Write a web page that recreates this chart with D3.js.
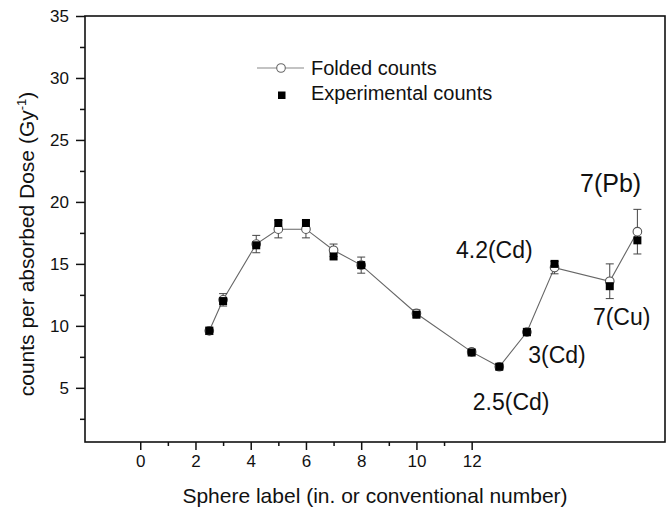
<!DOCTYPE html>
<html>
<head>
<meta charset="utf-8">
<script src="https://cdn.jsdelivr.net/npm/d3@7"></script>
<style>
  body { margin: 0; background: #fff; }
  text { font-family: "Liberation Sans", Arial, sans-serif; fill: #111; }
</style>
</head>
<body>
<div id="chart"></div>
<script>
// Set dimensions and margins for plot
const width = 669;
const height = 510;
const margin = {left: 85, right: 4, bottom: 68, top: 16};

// Data
const sphereX      = [2.5, 3, 4.2, 5, 6, 7, 8, 10, 12, 13, 14, 15, 17, 18];
const foldedCounts = [9.6, 12.1, 16.6, 17.8, 17.8, 16.1, 14.9, 11.0, 7.9, 6.7, 9.5, 14.7, 13.6, 17.6];
const foldedError  = [0.3, 0.5, 0.7, 0.7, 0.7, 0.5, 0.65, 0.3, 0.2, 0.2, 0.3, 0.5, 1.4, 1.8];
const expCounts    = [9.6, 12.0, 16.5, 18.3, 18.3, 15.6, 14.9, 10.9, 7.85, 6.7, 9.5, 15.0, 13.2, 16.9];

const xMajorTicks = [0, 2, 4, 6, 8, 10, 12];
const xMinorTicks = [1, 3, 5, 7, 9, 11];
const yMajorTicks = [5, 10, 15, 20, 25, 30, 35];
const yMinorTicks = [2.5, 7.5, 12.5, 17.5, 22.5, 27.5, 32.5];

const annoText = ["2.5(Cd)", "3(Cd)", "4.2(Cd)", "7(Cu)", "7(Pb)"];
const annoX    = [13.43, 15.09, 12.82, 17.43, 17.03];
const annoY    = [3.2, 7.0, 15.5, 10.1, 20.8];

const svg = d3.select("#chart")
  .append("svg")
  .attr("width", width)
  .attr("height", height);

// Scales
const xScale = d3.scaleLinear()
  .domain([-2, 19])
  .range([margin.left, width - margin.right]);

const yScale = d3.scaleLinear()
  .domain([0.63, 35])
  .range([height - margin.bottom, margin.top]);

const x0 = margin.left, x1 = width - margin.right;
const y0 = height - margin.bottom, y1 = margin.top;

// Axes (major + minor ticks, outward)
svg.append("g")
  .attr("transform", `translate(0,${y0})`)
  .call(d3.axisBottom(xScale).tickValues(xMajorTicks).tickSize(8).tickPadding(5).tickFormat(d3.format("d")))
  .call(g => g.select(".domain").remove())
  .attr("font-size", "17px");

svg.append("g")
  .attr("transform", `translate(0,${y0})`)
  .call(d3.axisBottom(xScale).tickValues(xMinorTicks).tickSize(4).tickFormat(""))
  .call(g => g.select(".domain").remove());

svg.append("g")
  .attr("transform", `translate(${x0},0)`)
  .call(d3.axisLeft(yScale).tickValues(yMajorTicks).tickSize(9).tickPadding(7))
  .call(g => g.select(".domain").remove())
  .attr("font-size", "17px");

svg.append("g")
  .attr("transform", `translate(${x0},0)`)
  .call(d3.axisLeft(yScale).tickValues(yMinorTicks).tickSize(5).tickFormat(""))
  .call(g => g.select(".domain").remove());

svg.selectAll(".tick line").attr("stroke", "#111").attr("stroke-width", 1.5);
svg.selectAll(".tick text").style("font-family", "'Liberation Sans', Arial, sans-serif").attr("fill", "#111");

// Frame
svg.append("rect")
  .attr("x", x0).attr("y", y1)
  .attr("width", x1 - x0).attr("height", y0 - y1)
  .attr("fill", "none")
  .attr("stroke", "#111")
  .attr("stroke-width", 1.6);

// Axis titles
svg.append("text")
  .attr("x", (x0 + x1) / 2)
  .attr("y", 503)
  .style("text-anchor", "middle")
  .style("font-size", "21px")
  .text("Sphere label (in. or conventional number)");

const yTitle = svg.append("text")
  .attr("transform", "translate(34,244) rotate(-90)")
  .style("text-anchor", "middle")
  .style("font-size", "21px");
yTitle.append("tspan").text("counts per absorbed Dose (Gy");
yTitle.append("tspan").attr("dy", "-8").style("font-size", "13px").text("-1");
yTitle.append("tspan").attr("dy", "8").text(")");

const pts = sphereX.map((x, i) => ({x: x, f: foldedCounts[i], e: foldedError[i], m: expCounts[i]}));

// Folded counts line
svg.append("path")
  .datum(pts)
  .attr("fill", "none")
  .attr("stroke", "#666")
  .attr("stroke-width", 1.1)
  .attr("d", d3.line().x(d => xScale(d.x)).y(d => yScale(d.f)));

// Error bars
const eb = svg.selectAll(".err").data(pts).enter().append("g").attr("class", "err")
  .attr("stroke", "#444").attr("stroke-width", 1);
eb.append("line")
  .attr("x1", d => xScale(d.x)).attr("x2", d => xScale(d.x))
  .attr("y1", d => yScale(d.f - d.e)).attr("y2", d => yScale(d.f + d.e));
eb.append("line")
  .attr("x1", d => xScale(d.x) - 4).attr("x2", d => xScale(d.x) + 4)
  .attr("y1", d => yScale(d.f - d.e)).attr("y2", d => yScale(d.f - d.e));
eb.append("line")
  .attr("x1", d => xScale(d.x) - 4).attr("x2", d => xScale(d.x) + 4)
  .attr("y1", d => yScale(d.f + d.e)).attr("y2", d => yScale(d.f + d.e));

// Folded counts markers
svg.selectAll(".fold").data(pts).enter().append("circle")
  .attr("class", "fold")
  .attr("cx", d => xScale(d.x))
  .attr("cy", d => yScale(d.f))
  .attr("r", 4.3)
  .attr("fill", "#fff")
  .attr("stroke", "#555")
  .attr("stroke-width", 1.1);

// Experimental counts markers
svg.selectAll(".exp").data(pts).enter().append("rect")
  .attr("class", "exp")
  .attr("x", d => xScale(d.x) - 4)
  .attr("y", d => yScale(d.m) - 4)
  .attr("width", 8)
  .attr("height", 8)
  .attr("fill", "#000");

// Annotations
svg.selectAll(".anno").data(annoText).enter().append("text")
  .attr("class", "anno")
  .attr("x", (d, i) => xScale(annoX[i]))
  .attr("y", (d, i) => yScale(annoY[i]))
  .style("text-anchor", "middle")
  .style("font-size", d => d === "7(Pb)" ? "25px" : "23px")
  .text(d => d);

// Legend
const lg = svg.append("g");
lg.append("line")
  .attr("x1", 257).attr("x2", 304).attr("y1", 68).attr("y2", 68)
  .attr("stroke", "#888").attr("stroke-width", 1.1);
lg.append("circle")
  .attr("cx", 281).attr("cy", 68).attr("r", 4.3)
  .attr("fill", "#fff").attr("stroke", "#666").attr("stroke-width", 1.1);
lg.append("text")
  .attr("x", 311).attr("y", 74.5)
  .style("font-size", "20px")
  .text("Folded counts");
lg.append("rect")
  .attr("x", 278).attr("y", 91.5).attr("width", 7.5).attr("height", 7.5)
  .attr("fill", "#000");
lg.append("text")
  .attr("x", 311).attr("y", 100)
  .style("font-size", "20px")
  .text("Experimental counts");
</script>
</body>
</html>
